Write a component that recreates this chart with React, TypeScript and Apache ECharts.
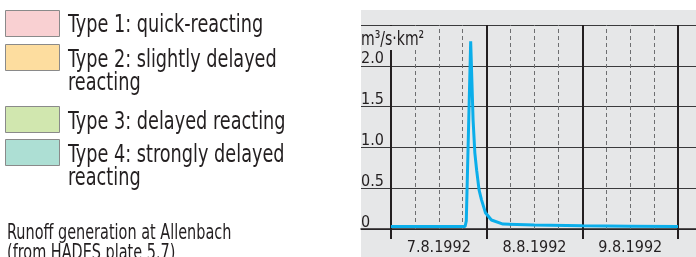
import React, { useEffect, useRef } from "react";
import * as echarts from "echarts";

const legendLabels = [
  ["Type 1: quick-reacting"],
  ["Type 2: slightly delayed", "reacting"],
  ["Type 3: delayed reacting"],
  ["Type 4: strongly delayed", "reacting"],
];
const legendColors = ["#F9D0D2", "#FDDD9F", "#D1E7AF", "#ADDFD4"];
const captionLines = ["Runoff generation at Allenbach", "(from HADES plate 5.7)"];
const unitLabel = "m³/s·km²";

const dayLabels = ["7.8.1992", "8.8.1992", "9.8.1992"];
const dayBoundaries = [0, 24, 48, 72];
const sixHourLines = [6, 12, 18, 30, 36, 42, 54, 60, 66];
const dayCentres = [12, 36, 60];

// hours since 7.8.1992 00:00
const hours = [0, 12, 18.6, 18.9, 20, 20.6, 21.05, 21.5, 22.1, 22.7, 23.7, 25.2, 28.1, 36, 48, 60, 72];
const runoff = [0.03, 0.03, 0.03, 0.1, 2.3, 1.34, 0.93, 0.72, 0.48, 0.36, 0.2, 0.11, 0.06, 0.05, 0.04, 0.035, 0.03];

const FONT = "'DejaVu Sans Condensed', 'DejaVu Sans', sans-serif";
const TEXT = "#231F20";
const PANEL = "#E6E7E8";

export default function App() {
  const ref = useRef<HTMLDivElement>(null);
  useEffect(() => {
    if (!ref.current) return;
    const chart = echarts.init(ref.current, null, { renderer: "svg" });

    const legendY = [10, 44, 106, 139];
    const graphics: any[] = [
      { type: "rect", z: -10, shape: { x: 361, y: 10, width: 335, height: 247 }, style: { fill: PANEL } },
    ];
    legendLabels.forEach((lines, i) => {
      graphics.push({
        type: "rect",
        shape: { x: 5.5, y: legendY[i] + 0.5, width: 54, height: 26 },
        style: { fill: legendColors[i], stroke: "#8A8A8A", lineWidth: 1 },
      });
      lines.forEach((t, j) => {
        graphics.push({
          type: "text",
          x: 68,
          y: legendY[i] + 13.5 + (i > 0 ? 1 : 0) + j * 23,
          scaleX: 0.82,
          style: { text: t, font: `24px ${FONT}`, fill: TEXT, verticalAlign: "middle", align: "left" },
        });
      });
    });
    captionLines.forEach((t, j) => {
      graphics.push({
        type: "text",
        x: 7,
        y: 232 + j * 19.5,
        scaleX: 0.765,
        style: { text: t, font: `21px ${FONT}`, fill: TEXT, verticalAlign: "middle", align: "left" },
      });
    });
    graphics.push({ type: "rect", z: 50, shape: { x: 361, y: 26, width: 64, height: 24 }, style: { fill: PANEL } });
    graphics.push({
      type: "text",
      z: 51,
      x: 361,
      y: 38,
      scaleX: 0.78,
      style: { text: unitLabel, font: `20px ${FONT}`, fill: TEXT, verticalAlign: "middle", align: "left" },
    });

    const vLines: any[] = [
      ...sixHourLines.map((v) => ({ xAxis: v, lineStyle: { color: "#6D6E70", width: 1, type: [4, 3] } })),
      ...dayBoundaries.map((v) => ({ xAxis: v, lineStyle: { color: TEXT, width: 2, type: "solid" } })),
    ];

    chart.setOption({
      animation: false,
      grid: { left: 361, right: 0, top: 25, bottom: 28 },
      xAxis: {
        type: "value",
        min: -7.5,
        max: 76.5,
        axisLine: { show: true, onZero: false, lineStyle: { color: TEXT, width: 1.5 } },
        axisTick: { show: true, customValues: dayBoundaries, length: 10, lineStyle: { color: TEXT, width: 2 } },
        axisLabel: {
          customValues: dayCentres,
          margin: 9,
          fontFamily: FONT,
          fontSize: 16,
          color: TEXT,
          formatter: (v: number) => dayLabels[Math.floor(v / 24)] ?? "",
        },
        splitLine: { show: false },
      },
      yAxis: {
        type: "value",
        min: 0,
        max: 2.5,
        interval: 0.5,
        axisLine: { show: false },
        axisTick: { show: false },
        axisLabel: {
          inside: true,
          margin: 0,
          align: "left",
          verticalAlign: "bottom",
          fontFamily: FONT,
          fontSize: 16,
          color: TEXT,
          formatter: (v: number) => (v >= 2.5 ? "" : v === 0 ? "0" : v.toFixed(1)),
        },
        splitLine: { show: true, lineStyle: { color: "#3A3A3C", width: 1 } },
      },
      series: [
        {
          type: "line",
          data: hours.map((h, i) => [h, runoff[i]]),
          showSymbol: false,
          lineStyle: { color: "#0BAEEA", width: 3 },
          z: 5,
          markLine: {
            silent: true,
            symbol: "none",
            label: { show: false },
            data: vLines,
            z: 3,
          },
        },
      ],
      graphic: graphics,
    });
    return () => chart.dispose();
  }, []);
  return <div ref={ref} style={{ position: "fixed", left: 0, top: 0, width: 696, height: 257 }} />;
}
